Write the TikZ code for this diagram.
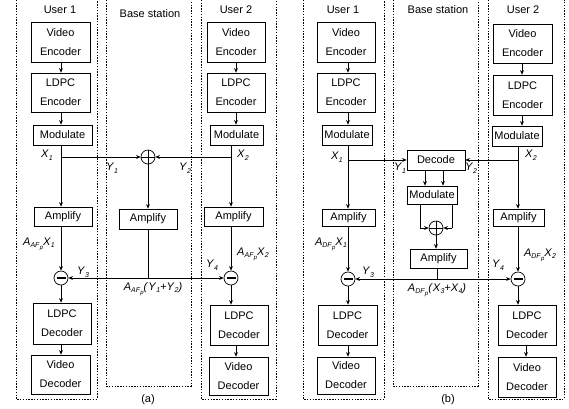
\documentclass[tikz,border=0pt]{standalone}
\usepackage{fontspec}
\setmainfont{Liberation Sans}
\usetikzlibrary{arrows.meta}
\newcommand\mybox[6]{\node[blk, minimum width={(#4-#2)*1pt}, minimum height={(#5-#3)*1pt}] (#1) at ({(#2+#4)/2},{(#3+#5)/2}) {#6};}
\newcommand\sv[2]{\textit{#1}\raisebox{-0.45ex}{\fontsize{7}{7}\selectfont\textit{#2}}}
\newcommand\ampf[1]{\textit{A}\raisebox{-0.45ex}{\fontsize{7}{7}\selectfont\textit{#1}\raisebox{-0.4ex}{\fontsize{6}{6}\selectfont\textit{p}}}}
\tikzset{
  blk/.style={draw, line width=0.7pt, inner sep=0pt, align=center, font=\fontsize{11}{19}\selectfont},
  grp/.style={draw, line width=0.7pt, dash pattern=on 1.4pt off 1.4pt},
  arr/.style={-{Stealth[length=4.5pt,width=3.8pt]}, line width=0.6pt},
  ln/.style={line width=0.6pt},
  sumnode/.style={circle, draw, line width=0.7pt, minimum size=14pt, inner sep=0pt},
  lbl/.style={inner sep=0pt, font=\fontsize{11}{13}\selectfont},
  ttl/.style={inner sep=0pt, font=\fontsize{11}{13}\selectfont}
}
\begin{document}
\begin{tikzpicture}[x=1pt, y=-1pt]
\useasboundingbox (0,0) rectangle (569,408);
\clip (0,0) rectangle (569,408);
% ---------------- panel (a) ----------------
\draw[grp] (16,-3) rectangle (97,399);
\draw[grp] (106,-3) rectangle (191,386);
\draw[grp] (201,-3) rectangle (276,399);
\node[ttl] (ua1) at (60,10) {User 1};
\node[ttl] (bsa) at (150,14) {Base station};
\node[ttl] (ua2) at (236,10) {User 2};
% user 1
\mybox{ve1}{31}{22}{90}{62}{Video\\Encoder}
\mybox{le1}{31}{73}{90}{112}{LDPC\\Encoder}
\mybox{mo1}{33}{125}{92}{145}{Modulate}
\mybox{am1}{34}{207}{92}{226}{Amplify}
\node[sumnode] (mi1) at (61,278) {};
\mybox{ld1}{33}{303}{91}{344}{LDPC\\Decoder}
\mybox{vd1}{31}{355}{90}{394}{Video\\Decoder}
\coordinate (c1) at (61,0);
\coordinate (j1) at (61,157);
% user 2
\mybox{ve2}{207}{22}{265}{62}{Video\\Encoder}
\mybox{le2}{207}{73}{265}{112}{LDPC\\Encoder}
\mybox{mo2}{210}{125}{263}{145}{Modulate}
\mybox{am2}{204}{207}{263}{226}{Amplify}
\node[sumnode] (mi2) at (231,278) {};
\mybox{ld2}{210}{305}{268}{345}{LDPC\\Decoder}
\mybox{vd2}{209}{357}{268}{395}{Video\\Decoder}
\coordinate (c2) at (231,0);
\coordinate (k2) at (236,0);
\coordinate (j2) at (231,157);
% base
\node[sumnode] (pl1) at (148,157) {};
\mybox{bam1}{119}{209}{177}{229}{Amplify}
\coordinate (bo1) at (148,278);
% symbols
\draw[ln] (pl1.north) -- (pl1.south) (pl1.west) -- (pl1.east);
\draw[line width=1.6pt] ([xshift=-4.5pt]mi1.center) -- ([xshift=4.5pt]mi1.center);
\draw[line width=1.6pt] ([xshift=-4.5pt]mi2.center) -- ([xshift=4.5pt]mi2.center);
% connectors
\draw[arr] (ve1.south -| c1) -- (le1.north -| c1);
\draw[arr] (le1.south -| c1) -- (mo1.north -| c1);
\draw[arr] (mo1.south -| c1) -- (am1.north -| c1);
\draw[arr] (j1) -- (pl1.west);
\draw[arr] (am1.south -| c1) -- (mi1.north);
\draw[arr] (mi1.south) -- (ld1.north -| c1);
\draw[arr] (ld1.south -| c1) -- (vd1.north -| c1);
\draw[arr] (ve2.south -| k2) -- (le2.north -| k2);
\draw[arr] (le2.south -| k2) -- (mo2.north -| k2);
\draw[arr] (mo2.south -| c2) -- (am2.north -| c2);
\draw[arr] (j2) -- (pl1.east);
\draw[arr] (am2.south -| c2) -- (mi2.north);
\draw[arr] (mi2.south) -- (ld2.north -| c2);
\draw[arr] (ld2.south -| k2) -- (vd2.north -| k2);
\draw[arr] (pl1.south) -- (bam1.north);
\draw[ln] (bam1.south -| bo1) -- (bo1);
\draw[arr] (bo1) -- (mi1.east);
\draw[arr] (bo1) -- (mi2.west);
% labels
\node[lbl] (xa1) at (47,155) {\sv{X}{1}};
\node[lbl] (xa2) at (243,155) {\sv{X}{2}};
\node[lbl] (ya1) at (112,168) {\sv{Y}{1}};
\node[lbl] (ya2) at (185,168) {\sv{Y}{2}};
\node[lbl] (aa1) at (39,244) {\ampf{AF}\sv{X}{1}};
\node[lbl] (ya3) at (83,272) {\sv{Y}{3}};
\node[lbl] (ya4) at (212,265) {\sv{Y}{4}};
\node[lbl] (aa2) at (253,254) {\ampf{AF}\sv{X}{2}};
\node[lbl] (aab) at (153,289) {\ampf{AF}\textit{(}\sv{Y}{1}\textit{+}\sv{Y}{2}\textit{)}};
\node[ttl] (capa) at (148,400) {(a)};
% ---------------- panel (b) ----------------
\draw[grp] (303,-3) rectangle (384,399);
\draw[grp] (393,-3) rectangle (478,386);
\draw[grp] (488,-3) rectangle (564,399);
\node[ttl] (ub1) at (343,10) {User 1};
\node[ttl] (bsb) at (438,10) {Base station};
\node[ttl] (ub2) at (523,10) {User 2};
% user 1
\mybox{ve3}{317}{22}{375}{62}{Video\\Encoder}
\mybox{le3}{317}{73}{375}{112}{LDPC\\Encoder}
\mybox{mo3}{322}{125}{372}{145}{Modulate}
\mybox{am3}{322}{209}{375}{226}{Amplify}
\node[sumnode] (mi3) at (348,279) {};
\mybox{ld3}{318}{305}{377}{345}{LDPC\\Decoder}
\mybox{vd3}{317}{357}{375}{394}{Video\\Decoder}
\coordinate (c3) at (348,0);
\coordinate (j3) at (348,160);
% user 2
\mybox{ve4}{493}{24}{552}{63}{Video\\Encoder}
\mybox{le4}{493}{75}{552}{115}{LDPC\\Encoder}
\mybox{mo4}{492}{126}{542}{146}{Modulate}
\mybox{am4}{493}{209}{544}{226}{Amplify}
\node[sumnode] (mi4) at (518,279) {};
\mybox{ld4}{498}{305}{556}{345}{LDPC\\Decoder}
\mybox{vd4}{498}{357}{556}{397}{Video\\Decoder}
\coordinate (c4) at (518,0);
\coordinate (k4) at (522,0);
\coordinate (m4) at (526,0);
\coordinate (j4) at (518,160);
% base
\mybox{dec}{407}{150}{465}{170}{Decode}
\mybox{bmo}{407}{186}{457}{204}{Modulate}
\node[sumnode] (pl2) at (436,228) {};
\mybox{bam2}{410}{249}{467}{268}{Amplify}
\coordinate (da) at (425,0);
\coordinate (db) at (443,0);
\coordinate (ma) at (420,228);
\coordinate (mb) at (452,228);
\coordinate (bo2) at (437,279);
% symbols
\draw[ln] (pl2.north) -- (pl2.south) (pl2.west) -- (pl2.east);
\draw[line width=1.6pt] ([xshift=-4.5pt]mi3.center) -- ([xshift=4.5pt]mi3.center);
\draw[line width=1.6pt] ([xshift=-4.5pt]mi4.center) -- ([xshift=4.5pt]mi4.center);
% connectors
\draw[arr] (ve3.south -| c3) -- (le3.north -| c3);
\draw[arr] (le3.south -| c3) -- (mo3.north -| c3);
\draw[arr] (mo3.south -| c3) -- (am3.north -| c3);
\draw[arr] (j3) -- (dec.west);
\draw[arr] (am3.south -| c3) -- (mi3.north);
\draw[arr] (mi3.south) -- (ld3.north -| c3);
\draw[arr] (ld3.south -| c3) -- (vd3.north -| c3);
\draw[arr] (ve4.south -| k4) -- (le4.north -| k4);
\draw[arr] (le4.south -| k4) -- (mo4.north -| k4);
\draw[arr] (mo4.south -| c4) -- (am4.north -| c4);
\draw[arr] (j4) -- (dec.east);
\draw[arr] (am4.south -| c4) -- (mi4.north);
\draw[arr] (mi4.south) -- (ld4.north -| c4);
\draw[arr] (ld4.south -| m4) -- (vd4.north -| m4);
\draw[arr] (dec.south -| da) -- (bmo.north -| da);
\draw[arr] (dec.south -| db) -- (bmo.north -| db);
\draw[ln] (bmo.south -| ma) -- (ma);
\draw[arr] (ma) -- (pl2.west);
\draw[ln] (bmo.south -| mb) -- (mb);
\draw[arr] (mb) -- (pl2.east);
\draw[arr] (pl2.south) -- (bam2.north -| pl2);
\draw[ln] (bam2.south -| bo2) -- (bo2);
\draw[arr] (bo2) -- (mi3.east);
\draw[arr] (bo2) -- (mi4.west);
% labels
\node[lbl] (xb1) at (337,157) {\sv{X}{1}};
\node[lbl] (xb2) at (531,155) {\sv{X}{2}};
\node[lbl] (yb1) at (400,168) {\sv{Y}{1}};
\node[lbl] (yb2) at (471,168) {\sv{Y}{2}};
\node[lbl] (ab1) at (331,244) {\ampf{DF}\sv{X}{1}};
\node[lbl] (yb3) at (368,272) {\sv{Y}{3}};
\node[lbl] (yb4) at (498,265) {\sv{Y}{4}};
\node[lbl] (ab2) at (540,255) {\ampf{DF}\sv{X}{2}};
\node[lbl] (abb) at (437,290) {\ampf{DF}\textit{(}\sv{X}{3}\textit{+}\sv{X}{4}\textit{)}};
\node[ttl] (capb) at (448,400) {(b)};
\end{tikzpicture}
\end{document}
